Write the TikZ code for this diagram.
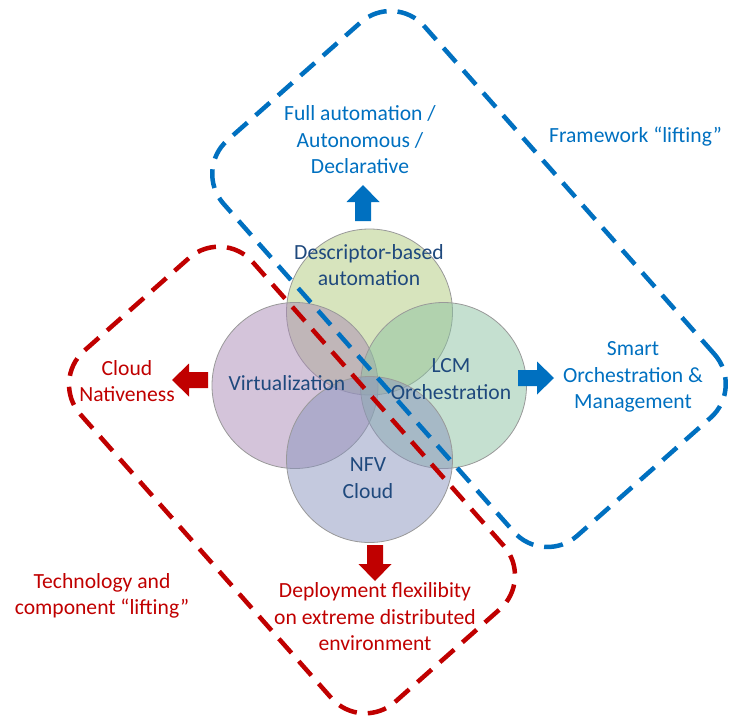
\documentclass[tikz,border=0pt]{standalone}
\usepackage{fontspec}
\setmainfont{Carlito}
\usepackage{tikz}
\definecolor{color1}{RGB}{0, 112, 192}
\definecolor{color2}{RGB}{192, 0, 0}
\definecolor{color3}{RGB}{31, 73, 125}
\definecolor{color4}{RGB}{175, 201, 123}
\definecolor{color5}{RGB}{169, 137, 181}
\definecolor{color6}{RGB}{139, 193, 161}
\definecolor{color7}{RGB}{137, 147, 189}

\begin{document}
\begin{tikzpicture}[x=1pt, y=-1pt,
	txt/.style={align=center, font=\fontsize{21.6}{26.5}\selectfont},
	bubble/.style={circle, draw=gray!80, line width=0.8pt, fill opacity=0.5, minimum size=166pt, inner sep=0pt},
	liftframe/.style={rectangle, rounded corners=45pt, line width=4.5pt, dash pattern=on 19pt off 11pt, inner sep=0pt},
	blockarr/.pic={\fill (0,-8) -- (19,-8) -- (19,-16.5) -- (36,0) -- (19,16.5) -- (19,8) -- (0,8) -- cycle;}]
	\useasboundingbox (0,0) rectangle (744,718);
	\node[bubble, fill=color4] (desc) at (369.5,312) {};
	\node[bubble, fill=color5] (virt) at (295,385.5) {};
	\node[bubble, fill=color6] (lcm) at (443.5,385.5) {};
	\node[bubble, fill=color7] (nfv) at (369.5,459.5) {};
	\node[liftframe, draw=color1, minimum width=528pt, minimum height=268pt, rotate=-48.5] (fwframe) at (469,279) {};
	\node[liftframe, draw=color2, minimum width=469pt, minimum height=230pt, rotate=-48.5] (techframe) at (292,480) {};
	\pic[fill=color1, rotate=90] at (363,221) {blockarr};
	\pic[fill=color1] at (518,378) {blockarr};
	\pic[fill=color2, rotate=180] at (208,380) {blockarr};
	\pic[fill=color2, rotate=-90] at (375,545) {blockarr};
	\node[txt, color3] (desctxt) at (369,265) {Descriptor-based\\automation};
	\node[txt, color3] (virttxt) at (287,383) {Virtualization};
	\node[txt, color3] (lcmtxt) at (451,379) {LCM\\Orchestration};
	\node[txt, color3] (nfvtxt) at (368,478) {NFV\\Cloud};
	\node[txt, color1] (autotxt) at (360,140) {Full automation /\\Autonomous /\\Declarative};
	\node[txt, color1] (fwtxt) at (635.5,137) {Framework “lifting”};
	\node[txt, color1] (smarttxt) at (633,377) {Smart\\Orchestration \&\\Management};
	\node[txt, color2] (cloudtxt) at (127,381) {Cloud\\Nativeness};
	\node[txt, color2] (deptxt) at (375,617) {Deployment flexilibity\\on extreme distributed\\environment};
	\node[txt, color2] (techtxt) at (102,596) {Technology and\\component “lifting”};
\end{tikzpicture}
\end{document}
